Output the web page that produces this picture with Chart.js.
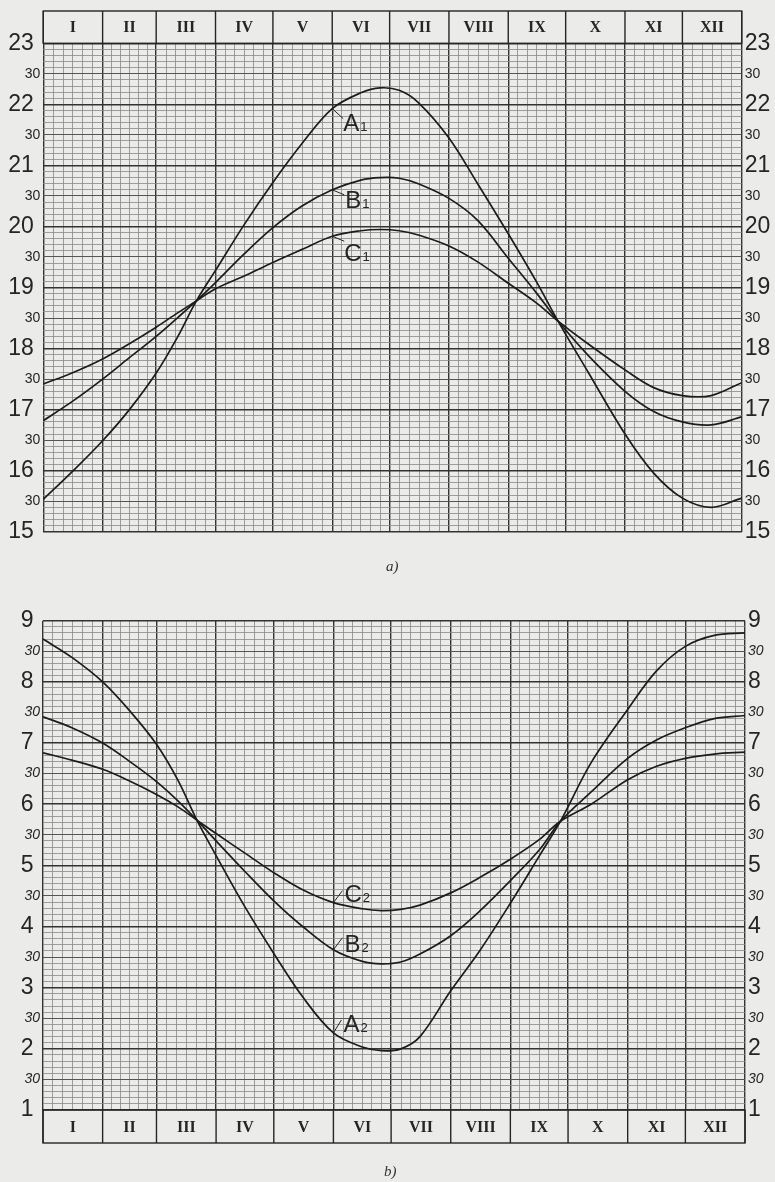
<!DOCTYPE html>
<html>
<head>
<meta charset="utf-8">
<script src="https://cdn.jsdelivr.net/npm/chart.js@4"></script>
<style>
body { margin:0; background:#ebebe9; width:775px; height:1182px; position:relative; overflow:hidden; }
canvas { position:absolute; left:0; }
#c1 { top:0; }
#c2 { top:580px; }
.cap { position:absolute; font-family:'Liberation Serif', serif; font-style:italic; font-size:15px; color:#333; }
</style>
</head>
<body>
<canvas id="c1" width="775" height="560"></canvas>
<canvas id="c2" width="775" height="602"></canvas>
<div class="cap" style="left:386px; top:558px">a)</div>
<div class="cap" style="left:384px; top:1163px">b)</div>
<script>
// months and day-of-year positions
const months = ['I','II','III','IV','V','VI','VII','VIII','IX','X','XI','XII'];
const monthLen = [31,28,31,30,31,30,31,31,30,31,30,31];
const days = [0,15,31,45,59,70,80,90,105,120,135,151,166,176,186,196,212,227,243,258,269,285,304,319,334,349,365];

// chart a) - hours
const a1 = [15.53,15.98,16.49,17.0,17.6,18.18,18.78,19.28,20.03,20.72,21.35,21.93,22.19,22.27,22.23,22.03,21.45,20.7,19.88,19.08,18.45,17.6,16.6,15.96,15.55,15.4,15.55];
const b1 = [16.82,17.13,17.5,17.85,18.2,18.5,18.78,19.08,19.55,19.98,20.33,20.6,20.76,20.8,20.79,20.7,20.46,20.1,19.48,18.9,18.45,17.88,17.3,16.97,16.8,16.75,16.88];
const c1 = [17.42,17.6,17.83,18.08,18.35,18.58,18.78,18.98,19.19,19.41,19.62,19.84,19.93,19.95,19.93,19.86,19.68,19.42,19.07,18.74,18.45,18.07,17.65,17.36,17.23,17.23,17.44];

// chart b) - hours
const a2 = [8.7,8.4,8.0,7.53,6.98,6.4,5.74,5.16,4.32,3.56,2.85,2.26,2.03,1.97,2.0,2.2,2.95,3.6,4.38,5.15,5.72,6.68,7.55,8.18,8.58,8.76,8.8];
const b2 = [7.43,7.25,7.0,6.7,6.37,6.06,5.74,5.4,4.9,4.42,4.0,3.62,3.43,3.39,3.42,3.55,3.85,4.25,4.75,5.25,5.72,6.2,6.75,7.05,7.25,7.4,7.45];
const c2 = [6.84,6.72,6.57,6.38,6.16,5.96,5.74,5.52,5.2,4.88,4.6,4.39,4.29,4.26,4.28,4.35,4.55,4.8,5.1,5.42,5.72,6.0,6.4,6.62,6.75,6.82,6.85];

const topRange = [15, 23];
const bottomRange = [1, 9];

const monthStart = [0];
monthLen.forEach(n => monthStart.push(monthStart[monthStart.length - 1] + n));

const ink = '#252525';
const narrow = "'Liberation Sans Narrow', 'Liberation Sans', Arial, sans-serif";

function xTicks(scale) {
    const t = [];
    for (let m = 0; m < 12; m++) {
        t.push({value: monthStart[m], major: true});
        for (let k = 1; k < 6; k++) t.push({value: monthStart[m] + monthLen[m] * k / 6, major: false});
    }
    t.push({value: 365, major: true});
    scale.ticks = t;
}
function yTicks(scale) {
    const t = [];
    for (let v = scale.options.min * 10; v <= scale.options.max * 10; v++) t.push({value: v / 10});
    scale.ticks = t;
}
const tenth = v => Math.round(v * 10);
const kind = c => {
    if (!c || !c.tick) return 2;
    const r = tenth(c.tick.value);
    return r % 10 === 0 ? 0 : r % 5 === 0 ? 1 : 2;
};
function yLabel(side) {
    return v => {
        const r = tenth(v);
        if (r % 10 === 0) return side === 'left' ? (r / 10) + ' ' : String(r / 10);
        if (r % 5 === 0) return '30';
        return '';
    };
}
const yFont = italic => c => kind(c) === 0
    ? {family: narrow, size: 23}
    : {family: narrow, size: 14, style: italic ? 'italic' : 'normal'};

const monthBox = {
    id: 'monthBox',
    afterDraw(chart, args, opts) {
        const {ctx, chartArea: a} = chart;
        const x = chart.scales.x;
        const y0 = opts.side === 'top' ? a.top - opts.h : a.bottom;
        ctx.save();
        ctx.strokeStyle = ink;
        ctx.lineWidth = 1.4;
        ctx.strokeRect(a.left, y0, a.right - a.left, opts.h);
        monthStart.forEach(d => {
            const px = x.getPixelForValue(d);
            ctx.beginPath(); ctx.moveTo(px, y0); ctx.lineTo(px, y0 + opts.h); ctx.stroke();
        });
        ctx.fillStyle = ink;
        ctx.font = "bold 16px 'Liberation Serif', serif";
        ctx.textAlign = 'center';
        ctx.textBaseline = 'middle';
        months.forEach((m, i) => ctx.fillText(m, x.getPixelForValue(monthStart[i] + monthLen[i] / 2), y0 + opts.h / 2 + 1));
        ctx.restore();
    }
};

// curve names, anchored on a data point of each curve
const curveNames = {
    id: 'curveNames',
    afterDatasetsDraw(chart, args, opts) {
        const ctx = chart.ctx;
        ctx.save();
        ctx.strokeStyle = ink;
        ctx.fillStyle = ink;
        ctx.lineWidth = 1;
        opts.items.forEach(it => {
            const p = chart.getDatasetMeta(it.ds).data[it.idx];
            ctx.beginPath();
            ctx.moveTo(p.x, p.y);
            ctx.lineTo(p.x + it.lx, p.y + it.ly);
            ctx.stroke();
            ctx.font = "24px 'Liberation Sans', sans-serif";
            ctx.textAlign = 'left';
            ctx.textBaseline = 'alphabetic';
            const tx = p.x + it.tx, ty = p.y + it.ty;
            ctx.fillText(it.name, tx, ty);
            const w = ctx.measureText(it.name).width;
            ctx.font = "13px 'Liberation Sans', sans-serif";
            ctx.fillText(it.sub, tx + w + 1, ty);
        });
        ctx.restore();
    }
};

function makeChart(id, range, series, pad, widths, box, names, italic) {
    const lineSet = series.map(s => ({
        data: days.map((d, i) => ({x: d, y: s[i]})),
        borderColor: '#1c1c1c',
        borderWidth: 1.7,
        pointRadius: 0,
        tension: 0.35,
        fill: false
    }));
    return new Chart(document.getElementById(id), {
        type: 'line',
        data: {datasets: lineSet},
        options: {
            responsive: false,
            animation: false,
            layout: {padding: pad},
            plugins: {legend: {display: false}, tooltip: {enabled: false}, monthBox: box, curveNames: {items: names}},
            scales: {
                x: {
                    type: 'linear', min: 0, max: 365, position: 'bottom',
                    afterBuildTicks: xTicks,
                    afterFit: s => { s.height = 0; },
                    ticks: {display: false},
                    border: {display: false},
                    grid: {
                        drawTicks: false,
                        color: c => c && c.tick && c.tick.major ? '#333' : '#888',
                        lineWidth: c => c && c.tick && c.tick.major ? 1.4 : 0.8
                    }
                },
                y: {
                    type: 'linear', min: range[0], max: range[1], position: 'left',
                    afterBuildTicks: yTicks,
                    afterFit: s => { s.width = widths[0]; },
                    border: {display: false},
                    ticks: {autoSkip: false, padding: 3, color: ink, font: yFont(italic), callback: yLabel('left')},
                    grid: {
                        drawTicks: false,
                        color: c => ['#333', '#555', '#888'][kind(c)],
                        lineWidth: c => [1.4, 1, 0.8][kind(c)]
                    }
                },
                y2: {
                    type: 'linear', min: range[0], max: range[1], position: 'right',
                    afterBuildTicks: yTicks,
                    afterFit: s => { s.width = widths[1]; },
                    border: {display: false},
                    ticks: {autoSkip: false, padding: 3, color: ink, font: yFont(italic), callback: yLabel('right')},
                    grid: {display: false, drawTicks: false}
                }
            }
        },
        plugins: [monthBox, curveNames]
    });
}

makeChart('c1', topRange, [a1, b1, c1],
    {top: 43.3, bottom: 28.3, left: 0, right: 0}, [43.3, 33.3],
    {side: 'top', h: 32.3},
    [
        {ds: 0, idx: 11, name: 'A', sub: '1', lx: 11, ly: 10, tx: 11, ty: 22},
        {ds: 1, idx: 11, name: 'B', sub: '1', lx: 12, ly: 5, tx: 13, ty: 18},
        {ds: 2, idx: 11, name: 'C', sub: '1', lx: 12, ly: 5, tx: 12, ty: 25}
    ], false);

makeChart('c2', bottomRange, [a2, b2, c2],
    {top: 40.7, bottom: 72, left: 0, right: 0}, [43, 30],
    {side: 'bottom', h: 33},
    [
        {ds: 0, idx: 11, name: 'A', sub: '2', lx: 8, ly: -13, tx: 10, ty: -1},
        {ds: 1, idx: 11, name: 'B', sub: '2', lx: 9, ly: -12, tx: 11, ty: 2},
        {ds: 2, idx: 11, name: 'C', sub: '2', lx: 9, ly: -12, tx: 11, ty: -1}
    ], true);
</script>
</body>
</html>
